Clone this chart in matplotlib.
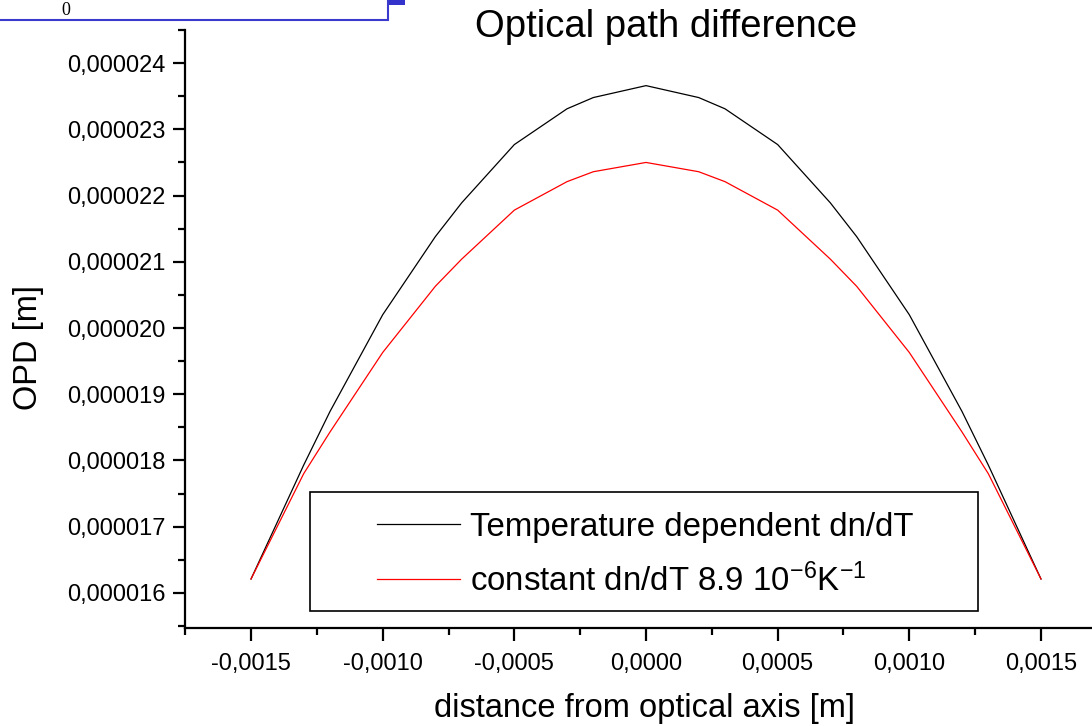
import matplotlib
matplotlib.use("Agg")
import matplotlib.pyplot as plt
from matplotlib.patches import Rectangle
from matplotlib.lines import Line2D
from matplotlib.ticker import MultipleLocator, FuncFormatter

plt.rcParams['font.family'] = ['Liberation Sans', 'DejaVu Sans']
plt.rcParams['mathtext.fontset'] = 'custom'
plt.rcParams['mathtext.rm'] = 'Liberation Sans'
plt.rcParams['mathtext.it'] = 'Liberation Sans:italic'

# distance from optical axis [m]
x_pos = [-0.0015, -0.0013, -0.0012, -0.0010, -0.0008, -0.0007, -0.0005, -0.0003, -0.0002, 0.0,
         0.0002, 0.0003, 0.0005, 0.0007, 0.0008, 0.0010, 0.0012, 0.0013, 0.0015]
# OPD in micrometres
opd_temp_dep = [16.21, 17.93, 18.74, 20.20, 21.38, 21.89, 22.77, 23.31, 23.48, 23.66,
                23.48, 23.31, 22.77, 21.89, 21.38, 20.20, 18.74, 17.93, 16.21]
opd_const = [16.21, 17.80, 18.43, 19.63, 20.63, 21.04, 21.78, 22.21, 22.36, 22.50,
             22.36, 22.21, 21.78, 21.04, 20.63, 19.63, 18.43, 17.80, 16.21]
labels = ["Temperature dependent dn/dT", "constant dn/dT 8.9 10$^{-6}$K$^{-1}$"]
colors = ["black", "red"]

W, H = 1092, 726


def fx(px):
    return px / W


def fy(py):
    return 1 - py / H


fig = plt.figure(figsize=(W / 100, H / 100), dpi=100)
ax = fig.add_axes([fx(185), fy(628), fx(W - 185), (628 - 30) / H])

ax.plot(x_pos, [v * 1e-6 for v in opd_temp_dep], color=colors[0], lw=0.9)
ax.plot(x_pos, [v * 1e-6 for v in opd_const], color=colors[1], lw=0.9)

ax.set_xlim(-0.0017507, 0.0016937)
ax.set_ylim(15.47e-6, 24.5e-6)

for s in ['top', 'right']:
    ax.spines[s].set_visible(False)
for s in ['left', 'bottom']:
    ax.spines[s].set_linewidth(1.6)

ax.xaxis.set_major_locator(MultipleLocator(0.0005))
ax.xaxis.set_minor_locator(MultipleLocator(0.00025))
ax.yaxis.set_major_locator(MultipleLocator(1e-6))
ax.yaxis.set_minor_locator(MultipleLocator(0.5e-6))
ax.xaxis.set_major_formatter(FuncFormatter(lambda v, p: f"{round(v, 6) + 0.0:.4f}".replace('.', ',')))
ax.yaxis.set_major_formatter(FuncFormatter(lambda v, p: f"{v:.6f}".replace('.', ',')))

ax.tick_params(which='major', direction='out', length=9, width=1.6, labelsize=17)
ax.tick_params(which='minor', direction='out', length=5, width=1.6)
ax.tick_params(axis='x', which='major', pad=9)
ax.tick_params(axis='y', which='major', pad=5)

fig.text(fx(666), fy(37), "Optical path difference", ha='center', va='baseline', fontsize=27.5)
fig.text(fx(645), fy(717), "distance from optical axis [m]", ha='center', va='baseline', fontsize=23.5)
fig.text(fx(28), fy(347), "OPD [m]", ha='center', va='center', rotation=90, fontsize=23.5)

# legend box
fig.add_artist(Rectangle((fx(310), fy(611)), fx(978 - 310), (611 - 492) / H,
                         transform=fig.transFigure, fill=False, ec='black', lw=1.2))
for c, lab, ly, base in zip(colors, labels, [524, 579], [536, 591]):
    fig.add_artist(Line2D([fx(377), fx(460)], [fy(ly), fy(ly)], transform=fig.transFigure,
                          color=c, lw=0.9))
    fig.text(fx(470), fy(base), lab, ha='left', va='baseline', fontsize=23.8)

# embedded formula frame in the corner
fig.add_artist(Rectangle((fx(-3), fy(19.5)), fx(391), 25 / H, transform=fig.transFigure,
                         fill=False, ec='#3a3acc', lw=1.5))
fig.add_artist(Rectangle((fx(389), fy(5)), fx(16), 6 / H, transform=fig.transFigure,
                         fc='#3333cc', ec='none'))
fig.text(fx(66), fy(15), "0", ha='center', va='baseline', fontsize=13, family='Liberation Serif')

fig.savefig("out.png", dpi=100)
